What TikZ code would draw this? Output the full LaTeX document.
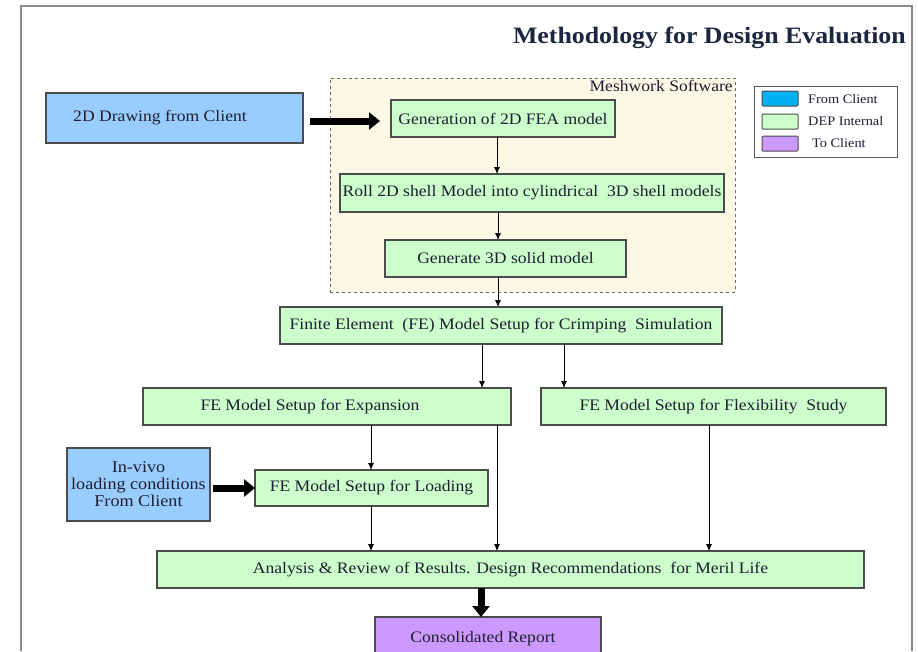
\documentclass[tikz,border=0pt]{standalone}
\usepackage{fontspec}
\setmainfont{Liberation Serif}[FakeStretch=1.1]
\usetikzlibrary{arrows.meta}
\definecolor{clientblue}{HTML}{99CCFF}
\definecolor{legblue}{HTML}{00B0F0}
\definecolor{depgreen}{HTML}{CCFFCC}
\definecolor{topurple}{HTML}{CC99FF}
\definecolor{meshyellow}{HTML}{FBF9E6}
\definecolor{txt}{HTML}{1E1E30}
\definecolor{titlec}{HTML}{1C2640}
\definecolor{framec}{HTML}{8A8A8A}
\tikzset{
  x=1pt, y=-1pt,
  box/.style={draw=black!70, line width=1.3pt, inner sep=0pt, outer sep=0pt,
    text=txt, font=\fontsize{16}{18}\selectfont, align=center},
  greenbox/.style={box, fill=depgreen},
  bluebox/.style={box, fill=clientblue},
  purplebox/.style={box, fill=topurple},
  meshbox/.style={draw=black!60, dashed, line width=0.9pt, fill=meshyellow, inner sep=0pt},
  arr/.style={draw=black, line width=0.8pt, -{Latex[length=7pt,width=6pt]}},
  bigarr/.style={draw=black, line width=7pt, -{Triangle[length=11pt,width=17pt]}},
  swatch/.style={draw=black!70, line width=1pt, rounded corners=1pt, minimum width=36pt, minimum height=15pt, inner sep=0pt},
  legtext/.style={text=txt, font=\fontsize{13}{15}\selectfont, anchor=west, inner sep=0pt},
}
\begin{document}
\begin{tikzpicture}
\useasboundingbox (0,0) rectangle (918,651);
\fill[white] (0,0) rectangle (918,651);
% outer frame
\draw[framec, line width=2pt] (21,651) -- (21,6) -- (912,6) -- (912,651);
% title
\node[anchor=east, text=titlec, font=\bfseries\fontsize{23.5}{26}\selectfont, inner sep=0pt] (title) at (906,38) {Methodology for Design Evaluation};
% meshwork region
\node[meshbox, minimum width=405pt, minimum height=214pt] (mesh) at (532.5,185) {};
\node[anchor=north east, text=txt, font=\fontsize{16}{18}\selectfont, inner sep=0pt] (meshlabel) at (733,80) {Meshwork Software};
% legend
\node[draw=black!65, line width=1pt, minimum width=143pt, minimum height=71pt, inner sep=0pt] (legend) at (825.5,121.5) {};
\node[swatch, fill=legblue] (sw1) at (780,98.5) {};
\node[swatch, fill=depgreen] (sw2) at (780,121.5) {};
\node[swatch, fill=topurple] (sw3) at (780,143.5) {};
\node[legtext] (lt1) at (808,99) {From Client};
\node[legtext] (lt2) at (808,121.5) {DEP Internal};
\node[legtext] (lt3) at (812,143.5) {To Client};
% boxes
\node[bluebox, minimum width=257pt, minimum height=50pt] (draw2d) at (174.5,118) {2D Drawing from Client\hspace*{29pt}};
\node[greenbox, minimum width=224pt, minimum height=37pt] (gen) at (503,118.5) {Generation of 2D FEA model};
\node[greenbox, minimum width=384pt, minimum height=38pt] (roll) at (532,193) {Roll 2D shell Model into cylindrical\ \ 3D shell models};
\node[greenbox, minimum width=241pt, minimum height=37pt] (solid) at (505.5,258.5) {Generate 3D solid model};
\node[greenbox, minimum width=442pt, minimum height=37pt] (crimp) at (501,325.5) {Finite Element\ \ (FE) Model Setup for Crimping\ \ Simulation};
\node[greenbox, minimum width=368pt, minimum height=37pt] (expan) at (327,406.5) {FE Model Setup for Expansion\hspace*{34pt}};
\node[greenbox, minimum width=345pt, minimum height=37pt] (flex) at (713.5,406.5) {FE Model Setup for Flexibility\ \ Study};
\node[bluebox, minimum width=143pt, minimum height=73pt, font=\fontsize{16.5}{17}\selectfont] (invivo) at (138.5,484.5) {In-vivo\\loading conditions\\From Client};
\node[greenbox, minimum width=233pt, minimum height=36pt] (load) at (371.5,488) {FE Model Setup for Loading};
\node[greenbox, minimum width=707pt, minimum height=37pt] (anal) at (510.5,569.5) {Analysis \& Review of Results. Design Recommendations\ \ for Meril Life};
\node[purplebox, minimum width=226pt, minimum height=44pt, anchor=north] (report) at (488,617) {\raisebox{4pt}{Consolidated Report\hspace*{10pt}}};
% connector x positions
\coordinate (c1) at (497,0);
\coordinate (c2) at (498,0);
\coordinate (c3) at (482,0);
\coordinate (c4) at (564,0);
\coordinate (c5) at (371,0);
\coordinate (c6) at (497,0);
\coordinate (c7) at (709,0);
\coordinate (c8) at (481,0);
% thick arrows
\draw[bigarr] (draw2d.east |- 0,121) ++(7,0) coordinate (b1s) -- (380,121) coordinate (b1e);
\draw[bigarr] (invivo.east |- 0,488) ++(3,0) -- (load.west |- 0,488);
\draw[bigarr] (anal.south -| c8) -- (report.north -| c8);
% thin arrows
\draw[arr] (gen.south -| c1) -- (roll.north -| c1);
\draw[arr] (roll.south -| c2) -- (solid.north -| c2);
\draw[arr] (solid.south -| c2) -- (crimp.north -| c2);
\draw[arr] (crimp.south -| c3) -- (expan.north -| c3);
\draw[arr] (crimp.south -| c4) -- (flex.north -| c4);
\draw[arr] (expan.south -| c5) -- (load.north -| c5);
\draw[arr] (load.south -| c5) -- (anal.north -| c5);
\draw[arr] (expan.south -| c6) -- (anal.north -| c6);
\draw[arr] (flex.south -| c7) -- (anal.north -| c7);
\end{tikzpicture}
\end{document}
